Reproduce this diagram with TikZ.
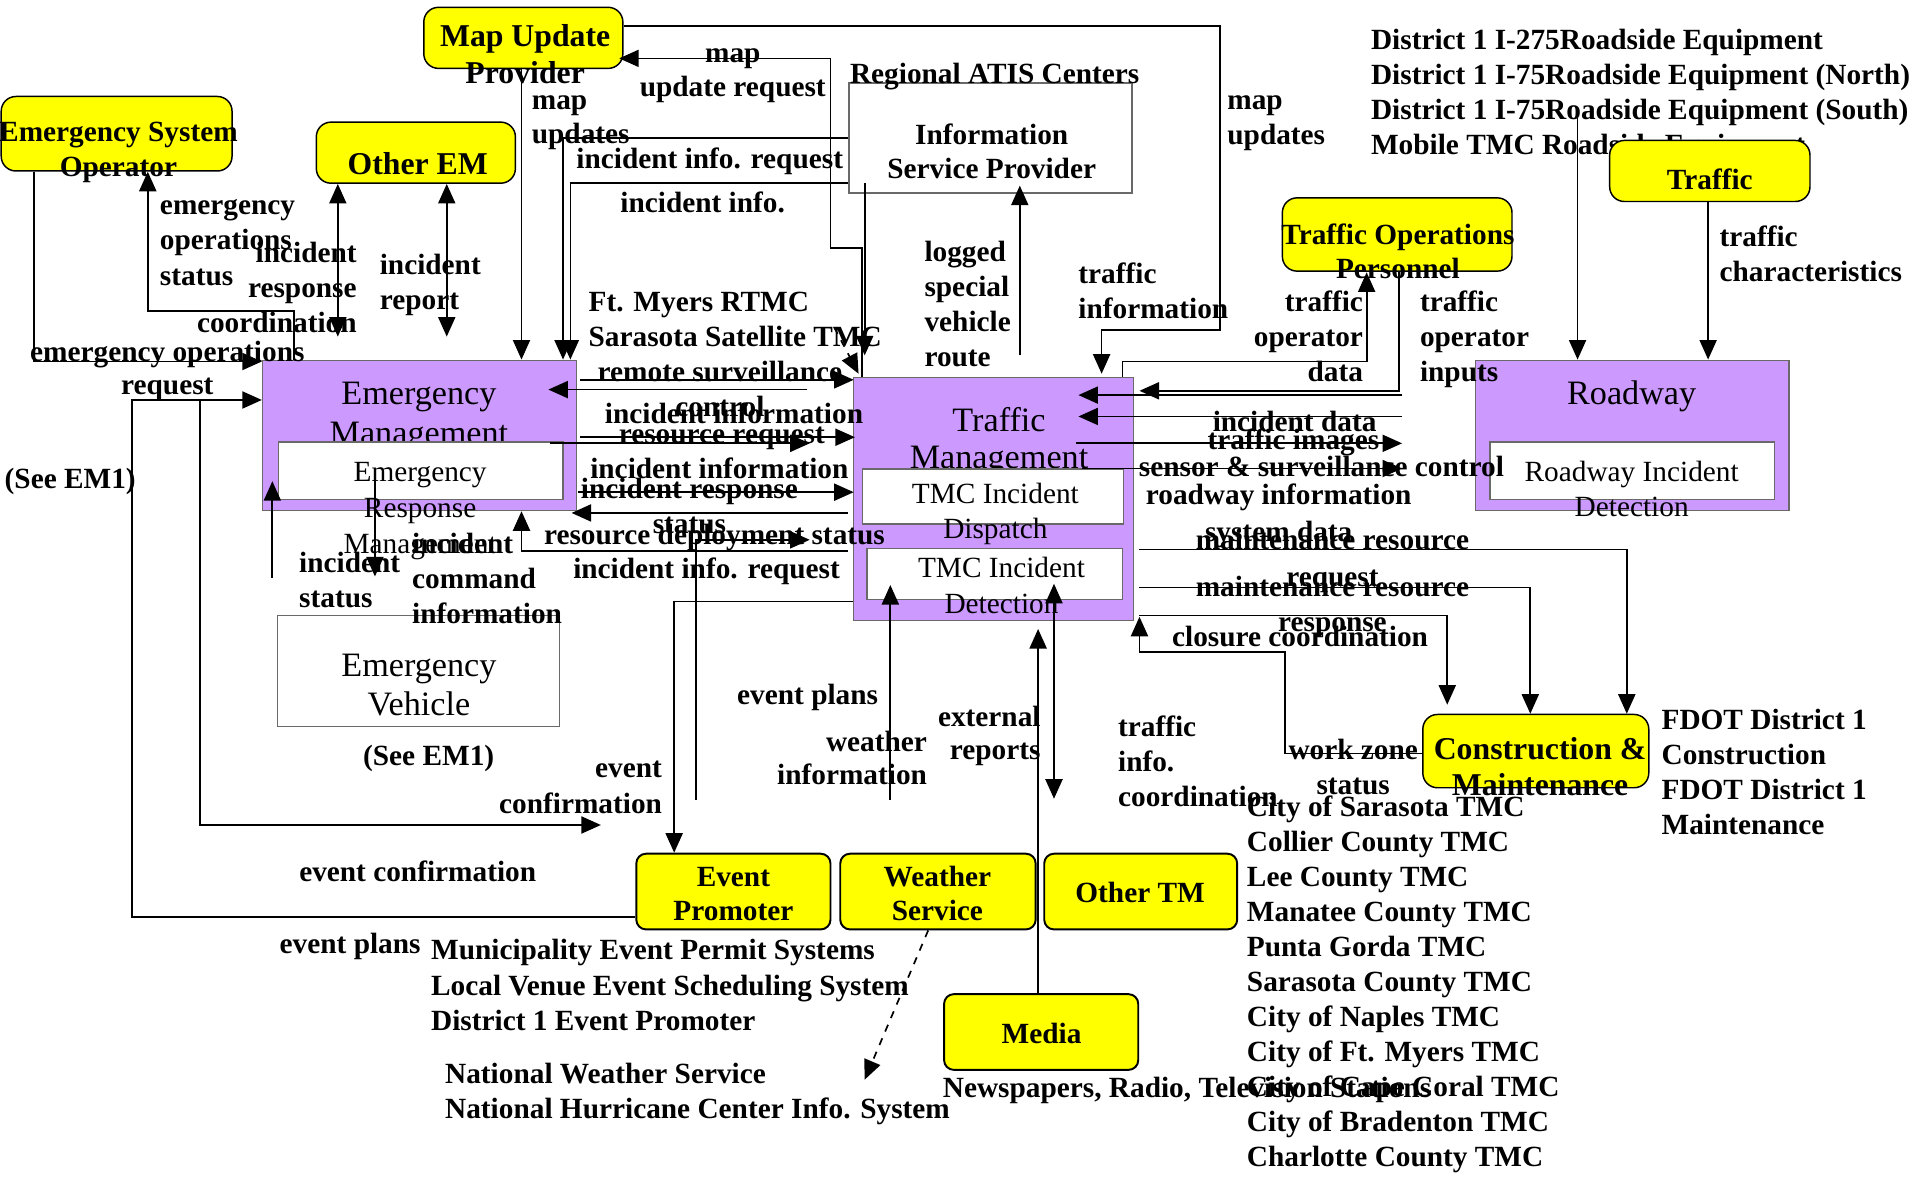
\documentclass[tikz,border=0pt]{standalone}
\usepackage{fontspec}
\setmainfont{Liberation Serif}
\usetikzlibrary{arrows.meta}
\definecolor{emp}{RGB}{204,153,255}
\definecolor{yel}{RGB}{255,255,0}
\definecolor{bgray}{RGB}{105,105,105}
\newcommand\tC[1]{\vtop{\halign{\hfil##\hfil\cr#1\crcr}}}
\newcommand\tL[1]{\vtop{\halign{##\hfil\cr#1\crcr}}}
\newcommand\tR[1]{\vtop{\halign{\hfil##\cr#1\crcr}}}
\tikzset{
 lbl/.style={inner sep=0pt, outer sep=0pt, font=\bfseries\fontsize{12}{14.35}\selectfont},
 ylbl/.style={inner sep=0pt, outer sep=0pt, font=\bfseries\fontsize{12}{14.1}\selectfont},
 ylbbig/.style={inner sep=0pt, outer sep=0pt, font=\bfseries\fontsize{13}{15.1}\selectfont},
 rlbig/.style={inner sep=0pt, outer sep=0pt, font=\fontsize{14}{16.2}\selectfont},
 rlsmall/.style={inner sep=0pt, outer sep=0pt, font=\fontsize{12}{14.6}\selectfont},
 yb/.style={draw=black, fill=yel, rounded corners=6pt, line width=0.6pt, inner sep=0pt},
 ybs/.style={draw=black, fill=yel, rounded corners=4pt, line width=0.8pt, inner sep=0pt},
 pb/.style={draw=bgray, fill=emp, line width=0.6pt, inner sep=0pt},
 wb/.style={draw=bgray, fill=white, line width=0.6pt, inner sep=0pt},
 flow/.style={line width=0.7pt, -{Triangle[length=8pt,width=7pt]}},
 flowtwo/.style={line width=0.7pt, {Triangle[length=8pt,width=7pt]}-{Triangle[length=8pt,width=7pt]}},
}
\begin{document}
\begin{tikzpicture}[x=0.5pt,y=-0.5pt]
\useasboundingbox (0,0) rectangle (1568,963);
\fill[white] (0,0) rectangle (1568,963);

% text hidden partly by the Traffic box
\node[lbl,anchor=base west] (l47) at (1122.6,40.5) {\tL{District 1 I-275Roadside Equipment\cr District 1 I-75Roadside Equipment (North)\cr District 1 I-75Roadside Equipment (South)\cr Mobile TMC Roadside Equipment}};

% outer boxes
\node[yb, minimum width=81.5pt, minimum height=25pt] (mu) at (428.5,31) {};
\node[yb, minimum width=94.5pt, minimum height=30.5pt] (eso) at (95.5,109.5) {};
\node[yb, minimum width=81.5pt, minimum height=25pt] (oem) at (340.5,125) {};
\node[yb, minimum width=94pt, minimum height=30pt] (top) at (1144,192) {};
\node[yb, minimum width=82pt, minimum height=25pt] (trf) at (1400,140) {};
\node[yb, minimum width=92.5pt, minimum height=30pt] (cm) at (1257.5,615) {};
\node[ybs, minimum width=79.5pt, minimum height=31pt] (ep) at (600.5,730) {};
\node[ybs, minimum width=80pt, minimum height=31pt] (ws) at (768,730) {};
\node[ybs, minimum width=79pt, minimum height=31pt] (otm) at (934,730) {};
\node[ybs, minimum width=79.5pt, minimum height=31pt] (med) at (852.5,845) {};
\node[pb, minimum width=128.5pt, minimum height=61.5pt] (em) at (343.5,356.5) {};
\node[wb, minimum width=115.5pt, minimum height=45.5pt] (ev) at (342.5,549.5) {};
\node[pb, minimum width=114.5pt, minimum height=99.5pt] (tm) at (813.5,408.5) {};
\node[pb, minimum width=128.5pt, minimum height=61.5pt] (rw) at (1336.5,356.5) {};
\node[wb, minimum width=116pt, minimum height=45pt] (isp) at (811,113) {};

% outer box texts
\node[ylbbig,anchor=base] (tmu) at (430,38) {\tC{Map Update\cr Provider}};
\node[ylbl,anchor=base] (teso) at (97,116) {\tC{Emergency System\cr Operator}};
\node[ylbbig,anchor=base] (toem) at (342,142.5) {Other EM};
\node[ylbl,anchor=base] (ttop) at (1144.6,200) {\tC{Traffic Operations\cr Personnel}};
\node[ylbl,anchor=base] (ttrf) at (1400,155) {Traffic};
\node[ylbbig,anchor=base] (tcm) at (1261,621.5) {\tC{Construction \&\cr Maintenance}};
\node[ylbl,anchor=base] (tep) at (600.5,725.5) {\tC{Event\cr Promoter}};
\node[ylbl,anchor=base] (tws) at (767.5,725.5) {\tC{Weather\cr Service}};
\node[ylbl,anchor=base] (totm) at (933.5,739) {Other TM};
\node[ylbl,anchor=base] (tmed) at (852.8,854) {Media};
\node[ylbl,anchor=base] (tisp) at (812,118) {\tC{Information\cr Service Provider}};
\node[rlbig,anchor=base,font=\fontsize{14}{16.5}\selectfont] (tem) at (343,331) {\tC{Emergency\cr Management}};
\node[rlbig,anchor=base,font=\fontsize{14}{16}\selectfont] (tev) at (343,554) {\tC{Emergency\cr Vehicle}};
\node[rlbig,anchor=base,font=\fontsize{14}{15.5}\selectfont] (ttm) at (818,353) {\tC{Traffic\cr Management}};
\node[rlbig,anchor=base] (trw) at (1336,331) {Roadway};

% inner boxes
\node[wb, minimum width=116.5pt, minimum height=23.5pt] (erm) at (344.5,385.5) {};
\node[wb, minimum width=107pt, minimum height=22.5pt] (tid) at (813,406.5) {};
\node[wb, minimum width=104.5pt, minimum height=21pt] (tdet) at (814.5,470) {};
\node[wb, minimum width=116.5pt, minimum height=23.5pt] (rid) at (1336.5,385.5) {};

\node[rlsmall,anchor=base,font=\fontsize{12}{14.75}\selectfont] (term) at (344,394) {\tC{Emergency\cr Response\cr Management}};
\node[rlsmall,anchor=base] (ttid) at (815,412) {\tC{TMC Incident\cr Dispatch}};
\node[rlsmall,anchor=base] (ttdet) at (820,473) {\tC{TMC Incident\cr Detection}};
\node[rlsmall,anchor=base] (trid) at (1336,394) {\tC{Roadway Incident\cr Detection}};

% labels
\node[lbl,anchor=base,font=\bfseries\fontsize{12}{14}\selectfont] (l1) at (600,51) {\tC{map\cr update request}};
\node[lbl,anchor=base west,font=\bfseries\fontsize{12}{13.7}\selectfont] (l2) at (435.5,90) {\tL{map\cr updates}};
\node[lbl,anchor=base west] (l3) at (696,68) {Regional ATIS Centers};
\node[lbl,anchor=base west] (l4) at (472,138) {incident info. request};
\node[lbl,anchor=base west] (l5) at (508,174) {incident info.};
\node[lbl,anchor=base west,font=\bfseries\fontsize{12}{14}\selectfont] (l6) at (1005,90) {\tL{map\cr updates}};
\node[lbl,anchor=base west] (l7) at (757,214) {\tL{logged\cr special\cr vehicle\cr route}};
\node[lbl,anchor=base west] (l8) at (883,232) {\tL{traffic\cr information}};
\node[lbl,anchor=base west] (l9) at (482,255) {\tL{Ft. Myers RTMC\cr Sarasota Satellite TMC}};
\node[lbl,anchor=base west] (l10) at (131,176) {\tL{emergency\cr operations\cr status}};
\node[lbl,anchor=base east] (l11) at (292,215) {\tR{incident\cr response\cr coordination}};
\node[lbl,anchor=base west] (l12) at (311,225) {\tL{incident\cr report}};
\node[lbl,anchor=base,font=\bfseries\fontsize{12}{13.6}\selectfont] (l13) at (137,296) {\tC{emergency operations\cr request}};
\node[lbl,anchor=base] (l14) at (57.5,400) {(See EM1)};
\node[lbl,anchor=base] (l15) at (589.5,312) {\tC{remote surveillance\cr control}};
\node[lbl,anchor=base] (l16) at (601,346.5) {incident information};
\node[lbl,anchor=base] (l17) at (591,363) {resource request};
\node[lbl,anchor=base] (l18) at (589,391.5) {incident information};
\node[lbl,anchor=base] (l19) at (564.5,408) {\tC{incident response\cr status}};
\node[lbl,anchor=base] (l20) at (585,446) {resource deployment status};
\node[lbl,anchor=base] (l21) at (578.5,473.5) {incident info. request};
\node[lbl,anchor=base west] (l22) at (245,469) {\tL{incident\cr status}};
\node[lbl,anchor=base west] (l23) at (337.5,453) {\tL{incident\cr command\cr information}};
\node[lbl,anchor=base] (l24) at (351,627) {(See EM1)};
\node[lbl,anchor=base east] (l25) at (542,637) {\tR{event\cr confirmation}};
\node[lbl,anchor=base] (l26) at (342,721.5) {event confirmation};
\node[lbl,anchor=base west] (l27) at (229,780.5) {event plans};
\node[lbl,anchor=base west] (l28) at (353,786) {\tL{Municipality Event Permit Systems\cr Local Venue Event Scheduling System\cr District 1 Event Promoter}};
\node[lbl,anchor=base west] (l29) at (364.5,887) {\tL{National Weather Service\cr National Hurricane Center Info. System}};
\node[lbl,anchor=base west] (l30) at (772,899) {Newspapers, Radio, Television Stations};
\node[lbl,anchor=base west] (l31) at (603.6,577) {event plans};
\node[lbl,anchor=base east,font=\bfseries\fontsize{12}{13.8}\selectfont] (l32) at (759,615) {\tR{weather\cr information}};
\node[lbl,anchor=base east,font=\bfseries\fontsize{12}{13.6}\selectfont] (l33) at (852,594.6) {\tR{external\cr reports}};
\node[lbl,anchor=base west] (l34) at (915.5,603) {\tL{traffic\cr info.\cr coordination}};
\node[lbl,anchor=base] (l35) at (1108,621.7) {\tC{work zone\cr status}};
\node[lbl,anchor=base] (l36) at (1064.5,529) {closure coordination};
\node[lbl,anchor=base,font=\bfseries\fontsize{12}{15}\selectfont] (l37) at (1091,450) {\tC{maintenance resource\cr request}};
\node[lbl,anchor=base] (l38) at (1047,443) {system data};
\node[lbl,anchor=base] (l39) at (1091,488) {\tC{maintenance resource\cr response}};
\node[lbl,anchor=base] (l40) at (1047,413) {roadway information};
\node[lbl,anchor=base] (l41) at (1082,390) {sensor \& surveillance control};
\node[lbl,anchor=base] (l42) at (1059,368) {traffic images};
\node[lbl,anchor=base] (l43) at (1060,353) {incident data};
\node[lbl,anchor=base east] (l44) at (1116,255) {\tR{traffic\cr operator\cr data}};
\node[lbl,anchor=base west] (l45) at (1162.7,255) {\tL{traffic\cr operator\cr inputs}};
\node[lbl,anchor=base west] (l46) at (1408,201.6) {\tL{traffic\cr characteristics}};
\node[lbl,anchor=base west] (l48) at (1360.5,597) {\tL{FDOT District 1\cr Construction\cr FDOT District 1\cr Maintenance}};
\node[lbl,anchor=base west] (l49) at (1021,668.4) {\tL{City of Sarasota TMC\cr Collier County TMC\cr Lee County TMC\cr Manatee County TMC\cr Punta Gorda TMC\cr Sarasota County TMC\cr City of Naples TMC\cr City of Ft. Myers TMC\cr City of Cape Coral TMC\cr City of Bradenton TMC\cr Charlotte County TMC}};

% connectors
\draw[flow] (427,0 |- mu.south) -- (427,0 |- em.north);
\draw[flow] (706,0 |- tm.north) -- (706,203) -- (680,203) -- (680,47.8) -- (507,47.8);
\draw[flow] (isp.west |- 0,113) -- (461,113) -- (461,0 |- em.north);
\draw[flow] (isp.west |- 0,150) -- (467,150) -- (467,0 |- em.north);
\draw[flow] (708,150) -- (708,291);
\draw[flow] (835,291) -- (835,152);
\draw[flow] (mu.east |- 0,21) -- (999,21) -- (999,270) -- (902,270) -- (902,306);
\draw[flow] (919,0 |- tm.north) -- (919,296) -- (1119,296) -- (1119,223);
\draw[flow] (1145.5,0 |- top.south) -- (1145.5,320) -- (933,320);
\draw[flow] (1148,323.5) -- (883,323.5);
\draw[flow] (1148,341) -- (883,341);
\draw[flow] (881,363) -- (1148,363);
\draw[flow] (886,383.6) -- (1148,383.6);
\draw[flow] (1291.7,97) -- (1291.7,0 |- rw.north);
\draw[flow] (1398.6,0 |- trf.south) -- (1398.6,0 |- rw.north);
\draw[flow] (933,450) -- (1332,450) -- (1332,0 |- cm.north);
\draw[flow] (933,481) -- (1253,481) -- (1253,0 |- cm.north);
\draw[flow] (933,504) -- (1185,504) -- (1185,577);
\draw[flow] (cm.west |- 0,617) -- (1052,617) -- (1052,533.6) -- (933,533.6) -- (933,505);
\draw[flow] (28,0 |- eso.south) -- (28,296) -- (em.west |- 0,296);
\draw[flow] (241,0 |- em.north) -- (241,254.5) -- (121,254.5) -- (121,0 |- eso.south);
\draw[flowtwo] (276.6,0 |- oem.south) -- (276.6,275.6);
\draw[flowtwo] (365.8,0 |- oem.south) -- (365.8,275.6);
\draw[flow] (ep.west |- 0,750.6) -- (108,750.6) -- (108,327.5) -- (em.west |- 0,327.5);
\draw[flow] (164,327.5) -- (164,675.5) -- (492,675.5);
\draw[flow] (223,473) -- (223,394);
\draw[flow] (307,385) -- (307,472);
\draw[flow] (475,311) -- (699,311);
\draw[flow] (661,319) -- (449,319);
\draw[flow] (475,358) -- (700,358);
\draw[flow] (450,363) -- (663,363);
\draw[flow] (473,403) -- (699,403);
\draw[flow] (694,420) -- (468,420);
\draw[flow] (694,451) -- (427,451) -- (427,0 |- em.south);
\draw[flow] (570,655) -- (570,442) -- (663,442);
\draw[flow] (tm.west |- 0,492.6) -- (552,492.6) -- (552,0 |- ep.north);
\draw[flow] (729,655) -- (729,479);
\draw[flow] (850,0 |- med.north) -- (850,515);
\draw[flowtwo] (863,478) -- (863,654);
\draw[flow, dashed] (683,268) -- (703,306);
\draw[flow, dashed] (760,0 |- ws.south) -- (708,884);
\end{tikzpicture}
\end{document}
